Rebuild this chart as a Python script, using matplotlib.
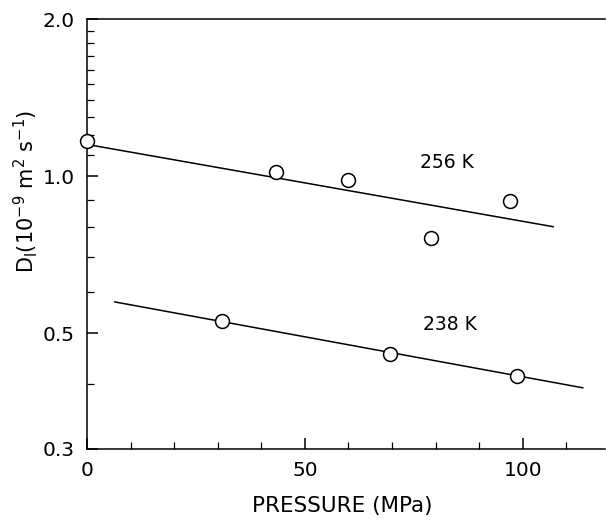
import numpy as np
import matplotlib.pyplot as plt
from matplotlib.ticker import FixedLocator, NullFormatter

# 256 K data
p_256 = [0, 43.5, 60, 79, 97]
d_256 = [1.165, 1.018, 0.983, 0.761, 0.896]
fit_p_256 = [0, 107]
fit_d_256 = [1.15, 0.80]

# 238 K data
p_238 = [31, 69.5, 98.6]
d_238 = [0.528, 0.456, 0.414]
fit_p_238 = [6.4, 113.8]
fit_d_238 = [0.574, 0.393]

yticks = [0.3, 0.5, 1.0, 2.0]
ytick_labels = ['0.3', '0.5', '1.0', '2.0']
xticks = [0, 50, 100]

plt.rcParams['font.family'] = ['DejaVu Sans']
fig = plt.figure(figsize=(6.06, 5.2), dpi=100)
ax = fig.add_axes([87/606, 71/520, 1 - 87/606 - 0.001, 430/520])

ax.plot(fit_p_256, fit_d_256, color='black', lw=1.1, zorder=2)
ax.plot(fit_p_238, fit_d_238, color='black', lw=1.1, zorder=2)
ax.plot(p_256, d_256, 'o', ms=10, mfc='white', mec='black', mew=1.1, zorder=3, clip_on=False)
ax.plot(p_238, d_238, 'o', ms=10, mfc='white', mec='black', mew=1.1, zorder=3, clip_on=False)

ax.text(82.6, 1.064, '256 K', fontsize=13.5, ha='center', va='center')
ax.text(83.3, 0.519, '238 K', fontsize=13.5, ha='center', va='center')

ax.set_yscale('log')
ax.set_xlim(0, 119)
ax.set_ylim(0.3, 2.0)
ax.yaxis.set_major_locator(FixedLocator(yticks))
ax.set_yticklabels(ytick_labels)
ax.yaxis.set_minor_locator(FixedLocator([0.4, 0.6, 0.7, 0.8, 0.9] + [1.1 + 0.1*i for i in range(9)]))
ax.yaxis.set_minor_formatter(NullFormatter())
ax.set_xticks(xticks)
ax.set_xticks(np.arange(10, 120, 10), minor=True)

ax.spines['right'].set_visible(False)
for s in ['left', 'bottom', 'top']:
    ax.spines[s].set_linewidth(1.1)
ax.tick_params(which='major', direction='in', length=8, width=1.1, labelsize=14.5, pad=9)
ax.tick_params(which='minor', direction='in', length=5, width=0.9)

ax.set_xlabel('PRESSURE (MPa)', fontsize=15.5)
ax.xaxis.set_label_coords(0.493, -0.11)
ax.set_ylabel(r'D$_\mathregular{l}$(10$^\mathregular{-9}$ m$^\mathregular{2}$ s$^\mathregular{-1}$)', fontsize=15)
ax.yaxis.set_label_coords(-0.09, 0.6)

fig.savefig('out.png', dpi=100)
